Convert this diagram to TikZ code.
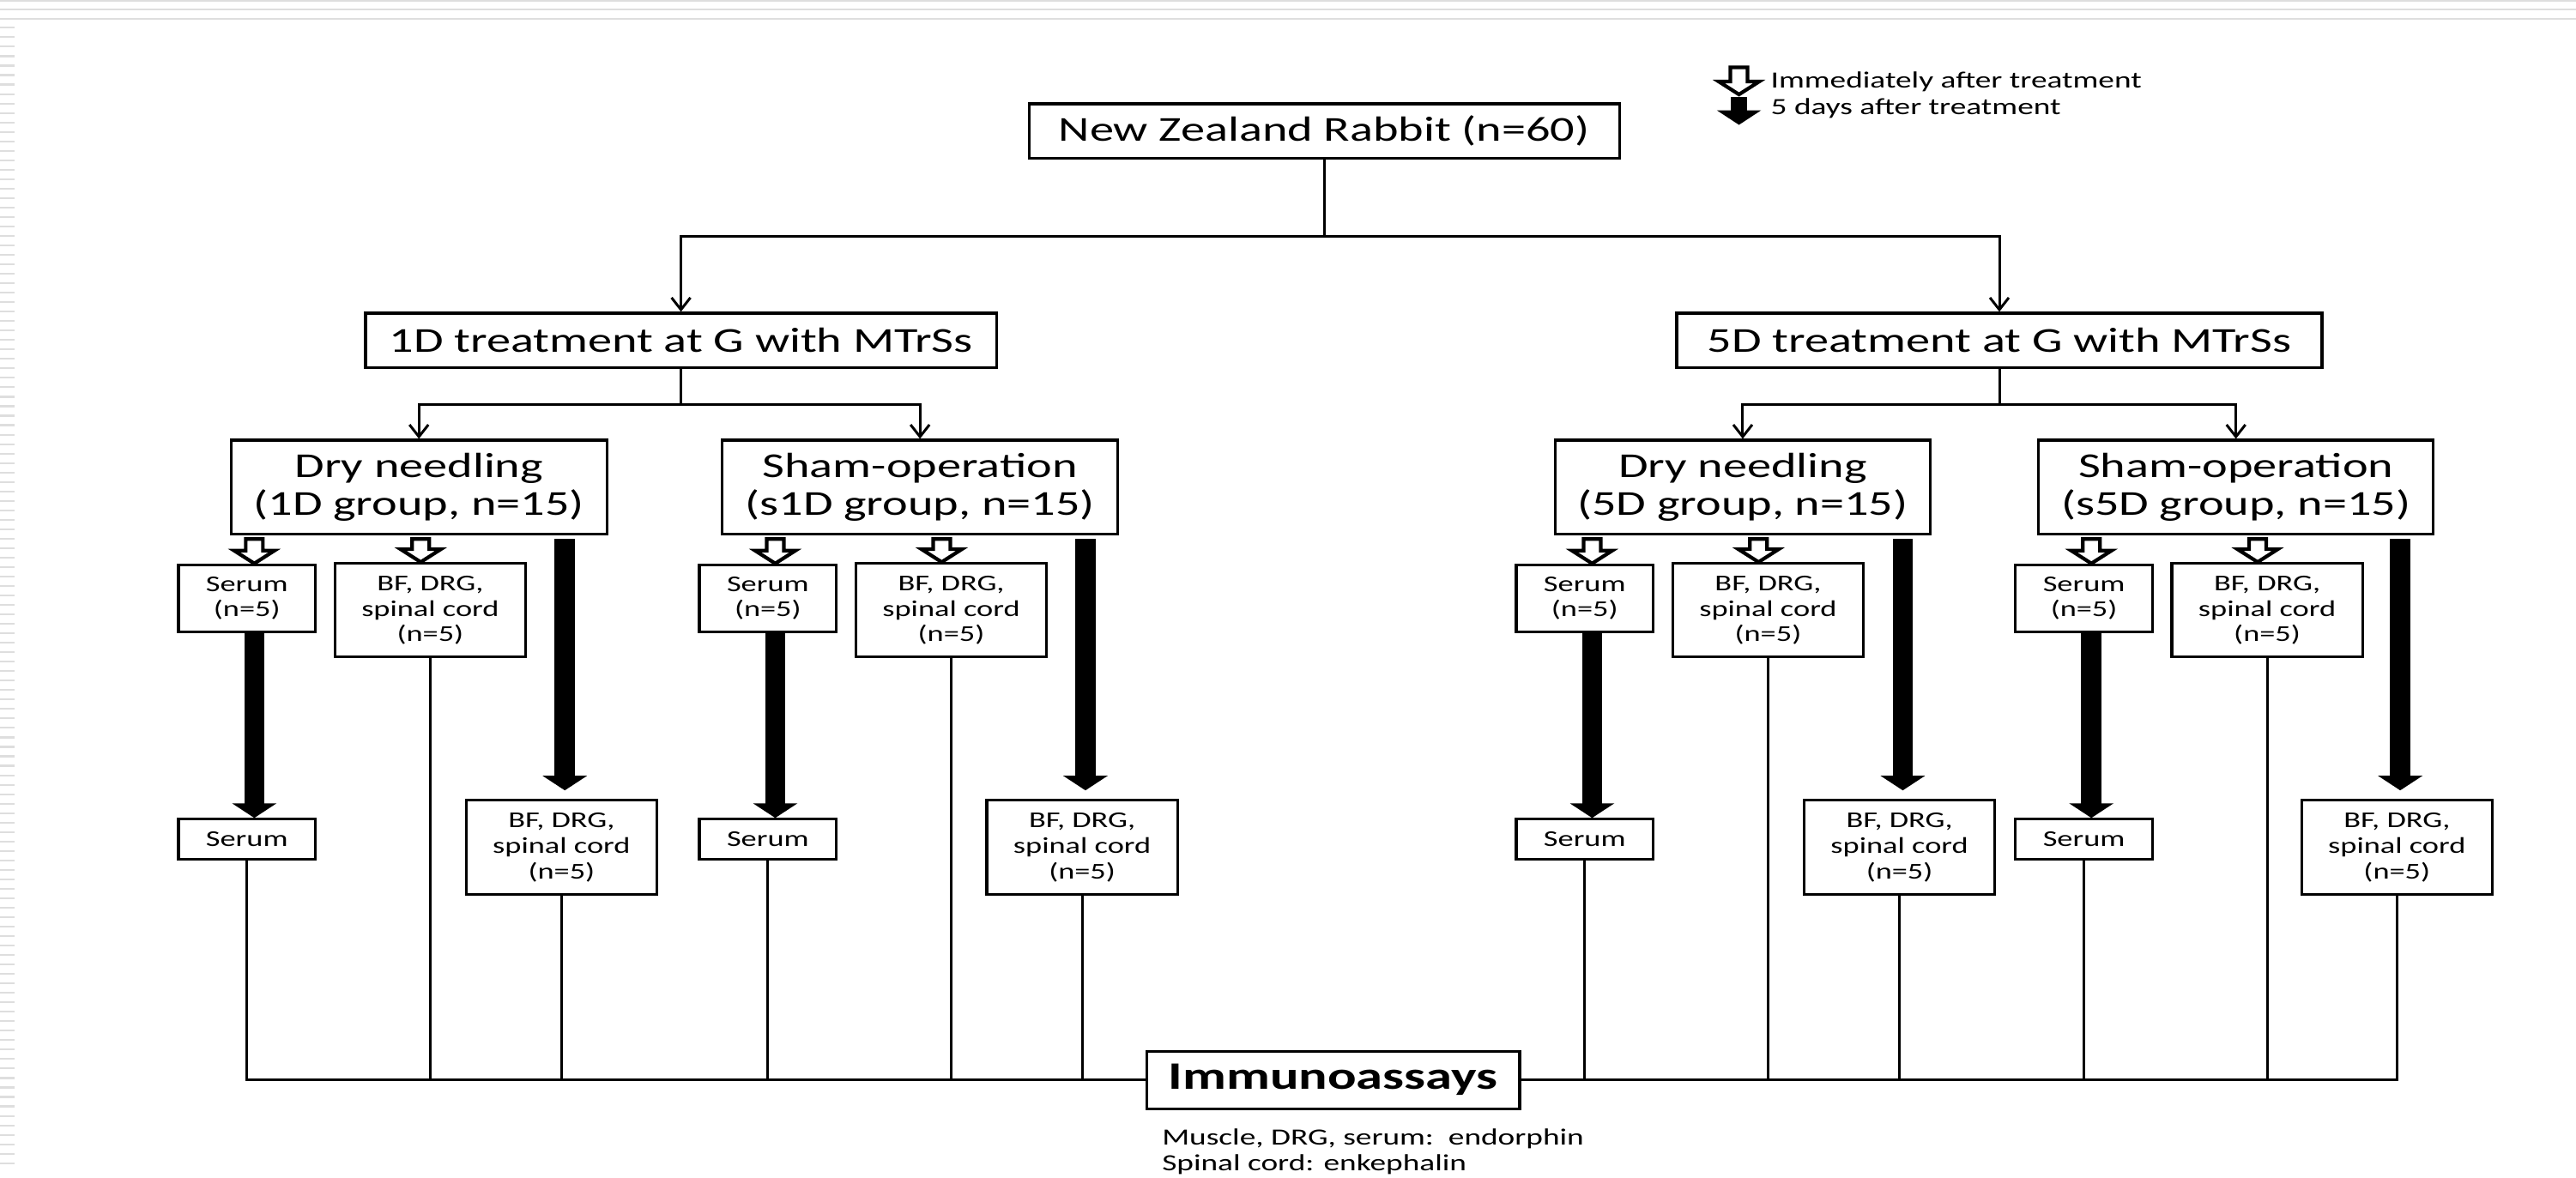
\documentclass[tikz,border=0pt]{standalone}
\usepackage{fontspec}
\setmainfont{Carlito}[FakeStretch=1.38]
\usetikzlibrary{arrows.meta, calc}
\definecolor{rulegray}{RGB}{222,222,222}
\tikzset{>={Straight Barb[length=1.4mm,width=2.2mm]}}

\begin{document}
\begin{tikzpicture}[x=0.019146cm, y=-0.019146cm,
    box/.style 2 args={draw, line width=0.9pt, align=center, inner sep=0pt,
        minimum width=#1*0.019146cm, minimum height=#2*0.019146cm},
    big/.style={font=\fontsize{11.6}{12.7}\selectfont},
    small/.style={font=\fontsize{7.5}{8.5}\selectfont},
    note/.style={align=left, inner sep=0pt, font=\fontsize{7.7}{8.6}\selectfont},
    line/.style={line width=0.85pt},
    fatarrow/.style={line width=0.235cm, -{Triangle[width=0.51cm,length=0.17cm]}},
    fatdrop/.style={fatarrow, shorten >=0.1cm, to path={let \p1=(\tikztostart), \p2=(\tikztotarget) in
        (\x2,\y1-0.04cm) -- (\p2)}},
    openarrow/.style={line width=1.2pt, fill=white, to path={let \p1=(\tikztostart), \p2=(\tikztotarget) in
        (\x2-0.1cm,\y1-#1) -- (\x2+0.1cm,\y1-#1) -- (\x2+0.1cm,\y2+0.15cm) -- (\x2+0.235cm,\y2+0.15cm)
        -- (\x2,\y2) -- (\x2-0.235cm,\y2+0.15cm) -- (\x2-0.1cm,\y2+0.15cm) -- cycle}},
    openarrow/.default=0.04cm]
    \useasboundingbox (0,0) rectangle (1568,717);

    % faint slide border
    \foreach \yy in {0.5,5.75,11.5}
        \draw[rulegray, line width=0.6pt] (0,\yy) -- (1568,\yy);
    \foreach \yy in {16.9,22.66,...,713}
        \draw[rulegray, line width=0.6pt] (0,\yy) -- (8.7,\yy);

    % legend
    \node[note, anchor=west, font=\fontsize{7.7}{9}\selectfont] (key-now) at (1077.5,49.6) {Immediately after treatment};
    \node[note, anchor=west, font=\fontsize{7.7}{9}\selectfont] (key-late) at (1077.5,66.2) {5 days after treatment};
    \coordinate (ko) at (1058.5,41);
    \coordinate (kf) at (1058.5,59);
    \draw[openarrow=0pt] (ko) to ++(0,16.5);
    \draw[fatarrow, line width=0.19cm] (kf) -- ++(0,17);

    % top levels
    \node[box={359.3}{33}, big] (rabbit) at (806,79.7) {New Zealand Rabbit (n=60)};
    \node[box={384}{33}, big] (tr1) at (414.5,207.1) {1D treatment at G with MTrSs};
    \node[box={392.8}{33}, big] (tr5) at (1217,207.1) {5D treatment at G with MTrSs};
    \coordinate (split) at ($(rabbit.south)+(0,47)$);
    \draw[line] (rabbit.south) -- (split);
    \draw[line, ->] (split) -| (tr1.north);
    \draw[line, ->] (split) -| (tr5.north);

    \node[box={228.7}{57.3}, big] (dn1) at (255,296.6) {Dry needling\\(1D group, n=15)};
    \node[box={241}{57.3}, big] (sh1) at (560,296.6) {Sham-operation\\(s1D group, n=15)};
    \node[box={228.3}{57.3}, big] (dn5) at (1060.8,296.6) {Dry needling\\(5D group, n=15)};
    \node[box={240.2}{57.3}, big] (sh5) at (1361,296.6) {Sham-operation\\(s5D group, n=15)};
    \coordinate (b1) at ($(tr1.south)+(0,22)$);
    \coordinate (b5) at ($(tr5.south)+(0,22)$);
    \draw[line] (tr1.south) -- (b1);
    \draw[line, ->] (b1) -| (dn1.north);
    \draw[line, ->] (b1) -| (sh1.north);
    \draw[line] (tr5.south) -- (b5);
    \draw[line, ->] (b5) -| (dn5.north);
    \draw[line, ->] (b5) -| (sh5.north);

    \node[box={227}{35}, font=\fontsize{12.9}{14}\selectfont\bfseries] (imm) at (811.5,657.5) {Immunoassays};
    \node[note, anchor=west] (markers) at (707,701) {Muscle, DRG, serum:~~endorphin\\Spinal cord: enkephalin};

    % 1D dry needling
    \node[box={83.4}{40.7}, small] (dn1-se) at (150.3,364.2) {Serum\\(n=5)};
    \node[box={116}{57}, small] (dn1-bf) at (261.9,371.5) {BF, DRG,\\spinal cord\\(n=5)};
    \node[box={83.4}{24.3}, small] (dn1-sl) at (150.3,510.9) {Serum};
    \node[box={116}{57.2}, small] (dn1-bl) at (341.8,515.8) {BF, DRG,\\spinal cord\\(n=5)};
    \draw[openarrow] (dn1.south) to ($(dn1-se.north)+(4.5,0)$);
    \draw[openarrow] (dn1.south) to ($(dn1-bf.north)+(-5.8,0)$);
    \draw[fatarrow] ($(dn1-se.south)+(4.5,0)$) -- ($(dn1-sl.north)+(4.5,0)$);
    \draw[fatdrop] (dn1.south) to ($(dn1-bl.north)+(2,0)$);
    \draw[line] (dn1-sl.south) |- (imm.west);
    \draw[line] (dn1-bf.south) |- (imm.west);
    \draw[line] (dn1-bl.south) |- (imm.west);

    % 1D sham-operation
    \node[box={83.4}{40.7}, small] (sh1-se) at (467.4,364.2) {Serum\\(n=5)};
    \node[box={116}{57}, small] (sh1-bf) at (579,371.5) {BF, DRG,\\spinal cord\\(n=5)};
    \node[box={83.4}{24.3}, small] (sh1-sl) at (467.4,510.9) {Serum};
    \node[box={116}{57.2}, small] (sh1-bl) at (658.7,515.8) {BF, DRG,\\spinal cord\\(n=5)};
    \draw[openarrow] (sh1.south) to ($(sh1-se.north)+(4.5,0)$);
    \draw[openarrow] (sh1.south) to ($(sh1-bf.north)+(-5.8,0)$);
    \draw[fatarrow] ($(sh1-se.south)+(4.5,0)$) -- ($(sh1-sl.north)+(4.5,0)$);
    \draw[fatdrop] (sh1.south) to ($(sh1-bl.north)+(2,0)$);
    \draw[line] (sh1-sl.south) |- (imm.west);
    \draw[line] (sh1-bf.south) |- (imm.west);
    \draw[line] (sh1-bl.south) |- (imm.west);

    % 5D dry needling
    \node[box={83.4}{40.7}, small] (dn5-se) at (964.6,364.2) {Serum\\(n=5)};
    \node[box={116}{57}, small] (dn5-bf) at (1076.2,371.5) {BF, DRG,\\spinal cord\\(n=5)};
    \node[box={83.4}{24.3}, small] (dn5-sl) at (964.6,510.9) {Serum};
    \node[box={116}{57.2}, small] (dn5-bl) at (1156.2,515.8) {BF, DRG,\\spinal cord\\(n=5)};
    \draw[openarrow] (dn5.south) to ($(dn5-se.north)+(4.5,0)$);
    \draw[openarrow] (dn5.south) to ($(dn5-bf.north)+(-5.8,0)$);
    \draw[fatarrow] ($(dn5-se.south)+(4.5,0)$) -- ($(dn5-sl.north)+(4.5,0)$);
    \draw[fatdrop] (dn5.south) to ($(dn5-bl.north)+(2,0)$);
    \draw[line] (dn5-sl.south) |- (imm.east);
    \draw[line] (dn5-bf.south) |- (imm.east);
    \draw[line] (dn5-bl.south) |- (imm.east);

    % 5D sham-operation
    \node[box={83.4}{40.7}, small] (sh5-se) at (1268.5,364.2) {Serum\\(n=5)};
    \node[box={116}{57}, small] (sh5-bf) at (1380,371.5) {BF, DRG,\\spinal cord\\(n=5)};
    \node[box={83.4}{24.3}, small] (sh5-sl) at (1268.5,510.9) {Serum};
    \node[box={116}{57.2}, small] (sh5-bl) at (1459,515.8) {BF, DRG,\\spinal cord\\(n=5)};
    \draw[openarrow] (sh5.south) to ($(sh5-se.north)+(4.5,0)$);
    \draw[openarrow] (sh5.south) to ($(sh5-bf.north)+(-5.8,0)$);
    \draw[fatarrow] ($(sh5-se.south)+(4.5,0)$) -- ($(sh5-sl.north)+(4.5,0)$);
    \draw[fatdrop] (sh5.south) to ($(sh5-bl.north)+(2,0)$);
    \draw[line] (sh5-sl.south) |- (imm.east);
    \draw[line] (sh5-bf.south) |- (imm.east);
    \draw[line] (sh5-bl.south) |- (imm.east);
\end{tikzpicture}
\end{document}
